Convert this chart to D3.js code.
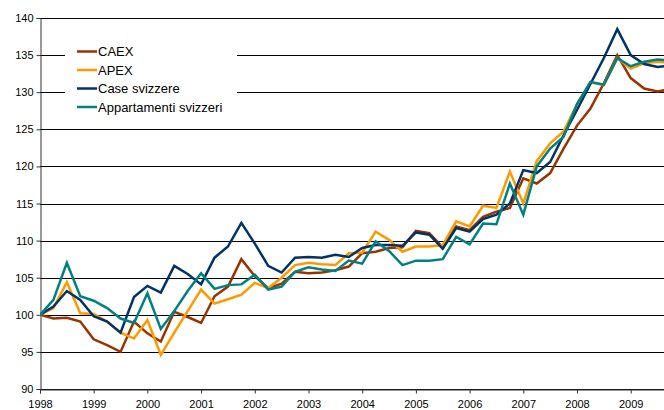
<!DOCTYPE html>
<html>
<head>
<meta charset="utf-8">
<script src="https://cdn.jsdelivr.net/npm/d3@7"></script>
<style>
  body { margin: 0; background: #fff; }
  svg { display: block; font-family: "Liberation Sans", Arial, sans-serif; }
</style>
</head>
<body>
<svg id="chart"></svg>
<script>
var width = 664;
var height = 410;

// quarterly index values, 1998 Q1 onward
var years = [1998, 1999, 2000, 2001, 2002, 2003, 2004, 2005, 2006, 2007, 2008, 2009];
var yTicks = [90, 95, 100, 105, 110, 115, 120, 125, 130, 135, 140];

var caex = [100, 99.5, 99.6, 99.1, 96.7, 95.9, 95.0, 99.1, 97.5, 96.4, 100.4, 99.7,
  98.9, 102.5, 103.8, 107.5, 105.2, 103.6, 104.2, 105.8, 105.6, 105.7, 106.0, 106.5,
  108.3, 108.5, 109.0, 109.1, 111.3, 111.0, 109.1, 111.9, 111.4, 113.2, 113.9, 114.4,
  118.4, 117.7, 119.1, 122.4, 125.5, 127.8, 131.2, 135.0, 131.9, 130.5, 130.1, 130.4];
var apex = [100, 100.9, 104.4, 100.2, 100.1, 99.1, 97.6, 96.8, 99.3, 94.6, 97.6, 100.5,
  103.4, 101.5, 102.1, 102.7, 104.3, 103.6, 105.0, 106.7, 107.0, 106.8, 106.7, 108.3,
  108.4, 111.2, 110.1, 108.5, 109.2, 109.2, 109.4, 112.6, 111.9, 114.7, 114.4, 119.3,
  115.0, 120.7, 123.1, 124.7, 128.4, 131.3, 131.0, 134.6, 133.2, 133.9, 134.1, 134.0];
var caseSv = [100, 101.1, 103.2, 102.0, 99.8, 99.1, 97.6, 102.4, 103.9, 103.0, 106.6, 105.5,
  104.1, 107.7, 109.2, 112.4, 109.6, 106.6, 105.7, 107.7, 107.8, 107.7, 108.1, 107.8,
  109.0, 109.4, 109.4, 109.3, 111.1, 110.8, 108.9, 111.7, 111.2, 112.9, 113.5, 115.0,
  119.5, 119.1, 120.6, 124.2, 127.6, 131.1, 134.6, 138.5, 135.0, 133.8, 133.4, 133.6];
var appSv = [100, 102.0, 107.0, 102.5, 101.9, 100.9, 99.5, 98.9, 102.9, 98.1, 100.5, 103.2,
  105.6, 103.5, 104.0, 104.1, 105.4, 103.4, 103.8, 105.8, 106.4, 106.1, 105.9, 107.3,
  106.9, 109.9, 108.6, 106.7, 107.3, 107.3, 107.5, 110.5, 109.5, 112.3, 112.2, 117.7,
  113.5, 120.0, 122.4, 124.0, 128.4, 131.4, 131.0, 134.6, 133.5, 134.1, 134.4, 134.3];

var seriesNames = ["CAEX", "APEX", "Case svizzere", "Appartamenti svizzeri"];
var seriesColors = ["#993300", "#ff9900", "#003366", "#008080"];
var seriesValues = [caex, apex, caseSv, appSv];

var plotLeft = 40, plotRight = 664, plotTop = 18, plotBottom = 389;

var x = d3.scaleLinear().domain([1998, 2009.62]).range([plotLeft, plotRight]);
var y = d3.scaleLinear().domain([90, 140]).range([plotBottom, plotTop]);

var svg = d3.select("#chart")
  .attr("width", width)
  .attr("height", height);

svg.append("defs").append("clipPath").attr("id", "plotclip")
  .append("rect")
    .attr("x", plotLeft).attr("y", 0)
    .attr("width", plotRight - plotLeft).attr("height", height);

// horizontal grid
svg.append("g")
  .selectAll("line")
  .data(yTicks)
  .enter()
  .append("line")
    .attr("x1", plotLeft)
    .attr("x2", plotRight)
    .attr("y1", d => Math.round(y(d)) + 0.5)
    .attr("y2", d => Math.round(y(d)) + 0.5)
    .attr("stroke", "#000")
    .attr("stroke-width", 1.2);

// y axis
var yAxis = svg.append("g")
  .attr("transform", "translate(" + (plotLeft + 0.5) + ",0)")
  .call(d3.axisLeft(y).tickValues(yTicks).tickSize(4).tickPadding(3));
yAxis.select(".domain").attr("stroke", "#333");
yAxis.selectAll(".tick line").attr("stroke", "#333");
yAxis.selectAll("text").attr("font-size", 11).attr("fill", "#000")
  .attr("font-family", "Liberation Sans, Arial, sans-serif");

// x axis
var xAxis = svg.append("g")
  .attr("transform", "translate(0," + (Math.round(plotBottom) + 0.5) + ")")
  .call(d3.axisBottom(x).tickValues(years).tickFormat(d3.format("d")).tickSize(4).tickPadding(7));
xAxis.select(".domain").attr("stroke", "#333");
xAxis.selectAll(".tick line").attr("stroke", "#333");
xAxis.selectAll("text").attr("font-size", 11).attr("fill", "#000")
  .attr("font-family", "Liberation Sans, Arial, sans-serif");

var line = d3.line()
  .x((d, i) => x(1998 + i / 4))
  .y(d => y(d));

// legend background hides the grid behind it
svg.append("rect")
  .attr("x", 65).attr("y", 30)
  .attr("width", 172).attr("height", 92)
  .attr("fill", "#fff");

svg.append("g")
  .attr("clip-path", "url(#plotclip)")
  .selectAll("path")
  .data(seriesValues)
  .enter()
  .append("path")
    .attr("d", d => line(d))
    .attr("fill", "none")
    .attr("stroke", (d, i) => seriesColors[i])
    .attr("stroke-width", 2.5)
    .attr("stroke-linejoin", "miter");

var legend = svg.append("g")
  .selectAll("g")
  .data(seriesNames)
  .enter()
  .append("g")
    .attr("transform", (d, i) => "translate(77," + (51.5 + i * 18.5) + ")");

legend.append("line")
  .attr("x1", 0).attr("x2", 20)
  .attr("stroke", (d, i) => seriesColors[i])
  .attr("stroke-width", 2.5);

legend.append("text")
  .attr("x", 21)
  .attr("dy", "0.35em")
  .attr("font-size", 13)
  .attr("fill", "#000")
  .text(d => d);
</script>
</body>
</html>
